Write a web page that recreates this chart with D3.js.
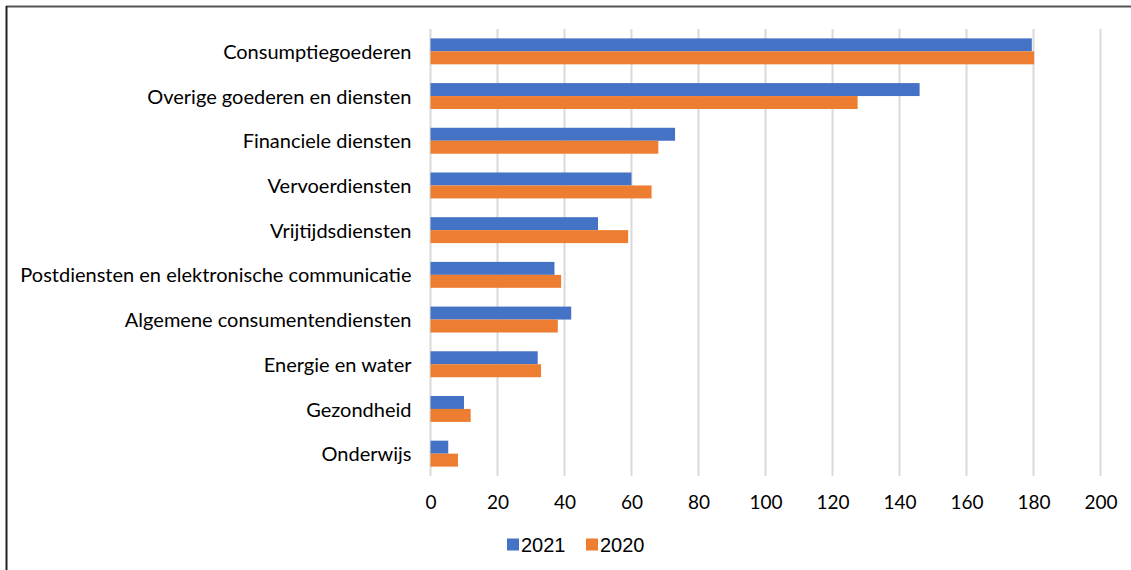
<!DOCTYPE html>
<html>
<head>
<meta charset="utf-8">
<script src="https://cdn.jsdelivr.net/npm/d3@7"></script>
<style>
  body { margin: 0; background: #fff; }
  svg { display: block; font-family: Lato, "Open Sans", sans-serif; }
</style>
</head>
<body>
<div id="chart"></div>
<script>
// categories top to bottom
var categories = ["Consumptiegoederen", "Overige goederen en diensten", "Financiele diensten",
    "Vervoerdiensten", "Vrijtijdsdiensten", "Postdiensten en elektronische communicatie",
    "Algemene consumentendiensten", "Energie en water", "Gezondheid", "Onderwijs"];
var values2021 = [179.5, 146, 73, 60, 50, 37, 42, 32, 10, 5.3];
var values2020 = [180.2, 127.5, 68, 66, 59, 39, 38, 33, 12, 8.2];
var seriesNames = ["2021", "2020"];
var seriesColors = ["#4472c4", "#ed7d31"];
var xTicks = [0, 20, 40, 60, 80, 100, 120, 140, 160, 180, 200];

var W = 1131, H = 570;
var margin = { top: 29, left: 430.5, right: 30.5, bottom: 94 };
var width = W - margin.left - margin.right,
    height = H - margin.top - margin.bottom;

var svg = d3.select("#chart").append("svg")
    .attr("width", W)
    .attr("height", H);

// frame lines (top and left)
svg.append("line").attr("x1", 6).attr("x2", W).attr("y1", 6.5).attr("y2", 6.5)
    .attr("stroke", "#555").attr("stroke-width", 2);
svg.append("line").attr("x1", 6.5).attr("x2", 6.5).attr("y1", 6).attr("y2", H)
    .attr("stroke", "#222").attr("stroke-width", 2);

var g = svg.append("g")
    .attr("transform", "translate(" + margin.left + "," + margin.top + ")");

var x = d3.scaleLinear().domain([0, 200]).range([0, width]);
var y = d3.scaleBand().domain(categories).range([0, height]).paddingInner(0.42).paddingOuter(0.21);
var ySub = d3.scaleBand().domain(seriesNames).range([0, y.bandwidth()]);

// gridlines
g.selectAll(".grid")
    .data(xTicks)
    .enter().append("line")
    .attr("x1", function (d) { return x(d); })
    .attr("x2", function (d) { return x(d); })
    .attr("y1", 0)
    .attr("y2", height)
    .attr("stroke", "#d9d9d9")
    .attr("stroke-width", 2);

// bars
var rows = categories.map(function (c, i) {
    return { cat: c, vals: [values2021[i], values2020[i]] };
});
var grp = g.selectAll(".row")
    .data(rows)
    .enter().append("g")
    .attr("transform", function (d) { return "translate(0," + y(d.cat) + ")"; });
grp.selectAll("rect")
    .data(function (d) { return d.vals.map(function (v, j) { return { s: seriesNames[j], v: v, c: seriesColors[j] }; }); })
    .enter().append("rect")
    .attr("x", 0)
    .attr("y", function (d) { return ySub(d.s); })
    .attr("width", function (d) { return x(d.v); })
    .attr("height", ySub.bandwidth())
    .attr("fill", function (d) { return d.c; });

// category labels
var yAxis = g.append("g")
    .call(d3.axisLeft(y).tickSize(0).tickPadding(19));
yAxis.select(".domain").remove();
yAxis.selectAll("text")
    .attr("font-family", "Lato, sans-serif")
    .attr("font-size", "20px")
    .attr("dy", "0.38em")
    .attr("fill", "#000");

// x axis
var xAxis = g.append("g")
    .attr("transform", "translate(0," + height + ")")
    .call(d3.axisBottom(x).tickValues(xTicks).tickSize(0).tickPadding(20));
xAxis.select(".domain").remove();
xAxis.selectAll("text")
    .attr("font-family", "Lato, sans-serif")
    .attr("font-size", "19px")
    .attr("fill", "#000");

// legend
var legend = svg.append("g").attr("transform", "translate(507,544.5)");
var items = legend.selectAll("g")
    .data(seriesNames)
    .enter().append("g")
    .attr("transform", function (d, i) { return "translate(" + (i * 79) + ",0)"; });
items.append("rect")
    .attr("x", 0).attr("y", -6)
    .attr("width", 12).attr("height", 12)
    .attr("fill", function (d, i) { return seriesColors[i]; });
items.append("text")
    .attr("x", 14).attr("y", 0)
    .attr("dy", "0.35em")
    .attr("font-family", "Liberation Sans, Arial, sans-serif")
    .attr("font-size", "20px")
    .attr("fill", "#000")
    .text(function (d) { return d; });
</script>
</body>
</html>
